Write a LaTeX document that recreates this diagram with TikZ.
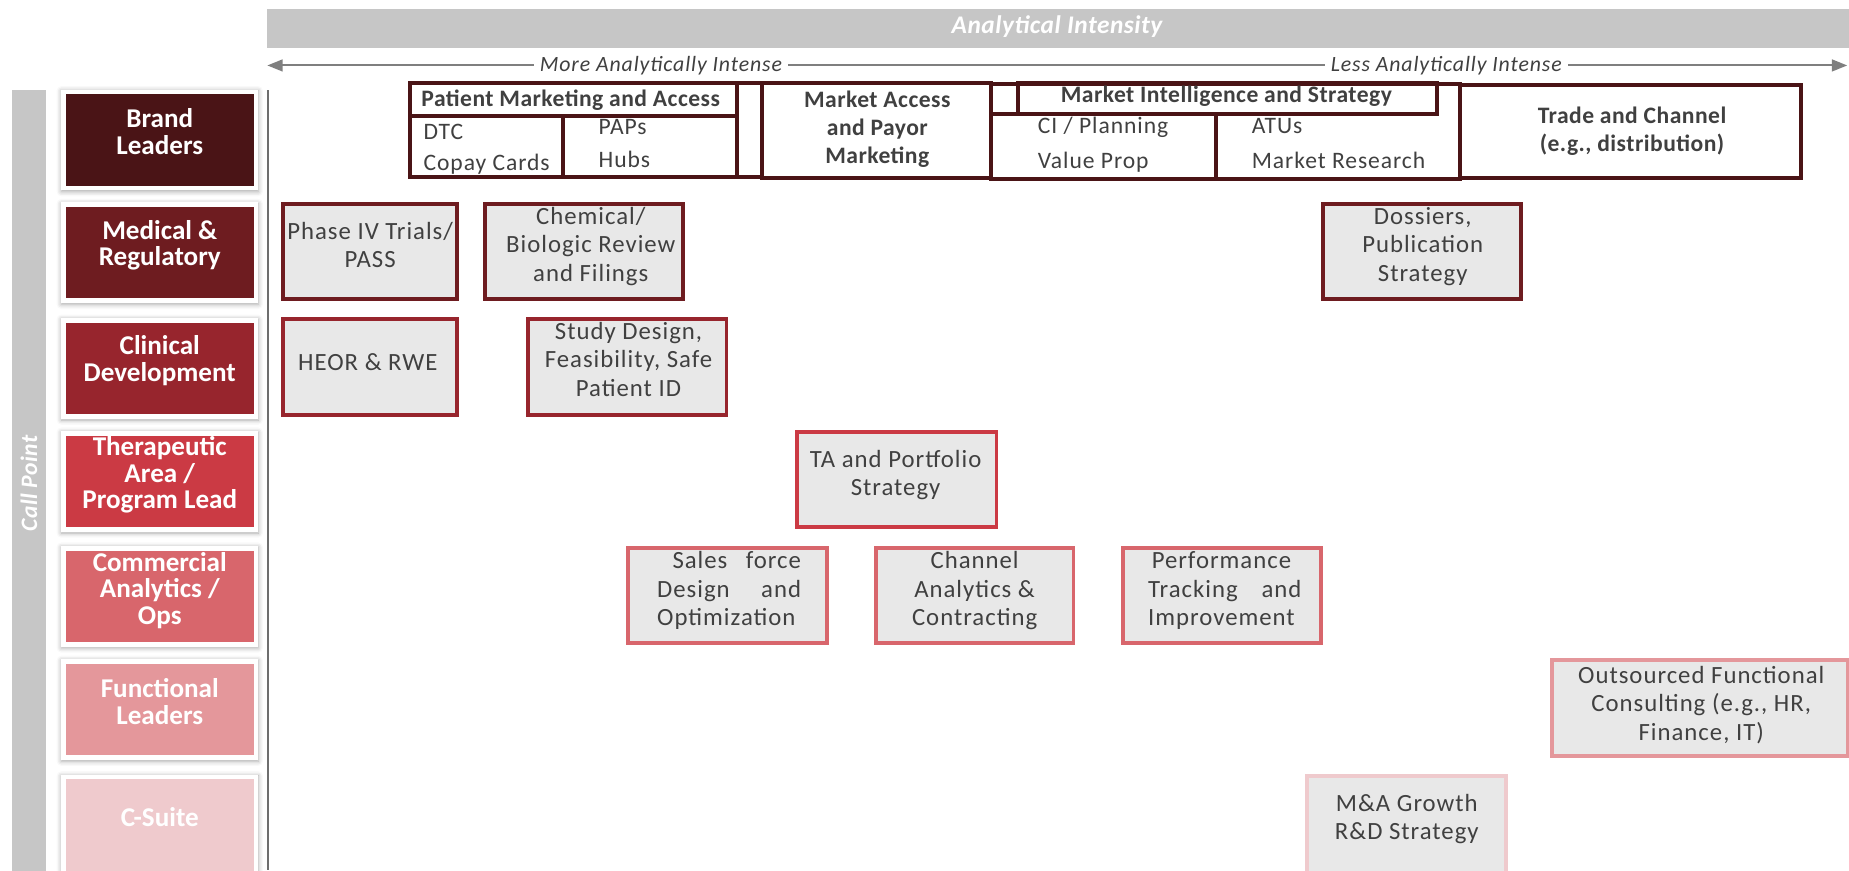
\documentclass[tikz,border=0pt]{standalone}
\usepackage{fontspec}
\setmainfont{Carlito}
\newfontfamily\bodyfont{Carlito}[LetterSpace=4]
\newfontfamily\headfont{Carlito}[LetterSpace=2]
\usetikzlibrary{arrows.meta,shadows.blur}

\definecolor{barGrey}{HTML}{C6C6C6}
\definecolor{ruleGrey}{HTML}{7F7F7F}
\definecolor{sepGrey}{HTML}{6E6E6E}
\definecolor{inkGrey}{HTML}{404040}
\definecolor{cellGrey}{HTML}{E8E8E8}
\definecolor{brandRed}{HTML}{4A1416}
\definecolor{medRed}{HTML}{6E1C20}
\definecolor{clinRed}{HTML}{97252D}
\definecolor{taRed}{HTML}{CB3A44}
\definecolor{opsRed}{HTML}{D8666C}
\definecolor{funcPink}{HTML}{E4979B}
\definecolor{suitePink}{HTML}{EFCACD}

% grey activity box: name, left, top, right, bottom, border colour, text y, text x, text
\newcommand\cellbox[9]{%
  \node[cell, draw=#6, minimum width={#4-#2-3.2}, minimum height={#5-#3-3.2}]
    (#1) at ({(#2+#4)/2},{(#3+#5)/2}) {};
  \node[celltext] (#1-text) at (#8,#7) {#9};}

% call-point label on the left: name, top, fill colour, text offset, text
\newcommand\rowlabel[5]{%
  \node[rowframe] (#1-frame) at (135.5,#2+38.75) {};
  \node[rowfill, fill=#3] (#1) at (135.5,#2+38.75) {};
  \node[rowtext] (#1-text) at (135.5,#2+#4) {#5};}

% outlined box of the brand row: name, left, top, right, bottom
\newcommand\brandframe[5]{%
  \node[brandbox, minimum width={#4-#2}, minimum height={#5-#3}]
    (#1) at ({(#2+#4)/2},{(#3+#5)/2}) {};}

\begin{document}
\begin{tikzpicture}[x=1pt,y=-1pt,
  topbar/.style={fill=barGrey, inner sep=0pt, outer sep=0pt},
  bartext/.style={text=white, font=\headfont\bfseries\itshape\fontsize{21.5}{24}\selectfont, inner sep=0pt},
  axis/.style={draw=ruleGrey, line width=1.7pt, {Triangle[length=13pt,width=10pt]}-{Triangle[length=13pt,width=10pt]}},
  axislabel/.style={fill=white, text=inkGrey, inner xsep=5pt, inner ysep=1pt,
    font=\bodyfont\itshape\fontsize{18.5}{22}\selectfont},
  sidebar/.style={fill=barGrey, inner sep=0pt, outer sep=0pt},
  sidetext/.style={text=white, inner sep=0pt, font=\headfont\bfseries\itshape\fontsize{20}{24}\selectfont},
  sep/.style={draw=sepGrey, line width=1.6pt},
  rowframe/.style={fill=white, minimum width=167pt, minimum height=85.5pt, inner sep=0pt,
    blur shadow={shadow xshift=0pt, shadow yshift=-1pt, shadow blur radius=4pt, shadow opacity=35}},
  rowfill/.style={minimum width=159pt, minimum height=77.5pt, inner sep=0pt},
  rowtext/.style={text=white, align=center, inner sep=0pt,
    font=\bfseries\fontsize{23}{22.5}\selectfont},
  cell/.style={fill=cellGrey, line width=3.2pt, inner sep=0pt, outer sep=0pt},
  celltext/.style={text=inkGrey, align=center, inner sep=0pt,
    font=\bodyfont\fontsize{21}{24}\selectfont},
  brandbox/.style={draw=brandRed, line width=3.4pt, inner sep=0pt, outer sep=0pt},
  brandtext/.style={text=inkGrey, inner sep=0pt, font=\bodyfont\fontsize{20}{24}\selectfont},
  brandhead/.style={text=inkGrey, inner sep=0pt, align=center,
    font=\headfont\bfseries\fontsize{20}{24}\selectfont}]

\useasboundingbox (0,0) rectangle (1568,738);

% ---- header: analytical intensity scale ----
\node[topbar, minimum width=1341.3pt, minimum height=32.8pt, anchor=north west] (bar) at (226.7,7.6) {};
\node[bartext, anchor=base] (barText) at (896.4,28.3) {Analytical Intensity};

\coordinate (arrowL) at (226.7,55.5);
\coordinate (arrowR) at (1566.5,55.5);
\draw[axis] (arrowL) -- (arrowR);
\node[axislabel, anchor=base] (moreLbl) at (560.5,60.8) {More Analytically Intense};
\node[axislabel, anchor=base] (lessLbl) at (1226.5,60.8) {Less Analytically Intense};

% ---- left side: call point ----
\node[sidebar, minimum width=29pt, minimum height=670pt, anchor=north west] (callBar) at (10,76) {};
\node[sidetext, rotate=90] (callText) at (24.5,410) {Call Point};

\coordinate (sepTop) at (227.4,76.5);
\coordinate (sepBot) at (227.4,738);
\draw[sep] (sepTop) -- (sepBot);

\rowlabel{brand}{80}{brandRed}{31.5}{Brand\\Leaders}
\rowlabel{medical}{175.6}{medRed}{32.5}{Medical \&\\Regulatory}
\rowlabel{clinical}{273.7}{clinRed}{32}{Clinical\\Development}
\rowlabel{therapeutic}{369.5}{taRed}{33.5}{Therapeutic\\Area /\\Program Lead}
\rowlabel{commercial}{467}{opsRed}{33.5}{Commercial\\Analytics /\\Ops}
\rowlabel{functional}{563}{funcPink}{32}{Functional\\Leaders}
\rowlabel{csuite}{661}{suitePink}{31.75}{C-Suite}

% ---- brand row ----
\brandframe{pmGroup}{347.8}{70.7}{646.3}{150}
\brandframe{pmHead}{347.8}{70.7}{625.3}{98}
\brandframe{pmLeft}{347.8}{98}{477.5}{150}
\brandframe{pmRight}{477.5}{98}{625.3}{150}
\brandframe{marketAccess}{646.3}{70.7}{840.3}{151}
\brandframe{miGroup}{840.3}{71}{1238.1}{152}
\brandframe{miLeft}{840.3}{96.5}{1031.5}{152}
\brandframe{miHead}{863.5}{70.6}{1219}{96.5}
\brandframe{trade}{1238.1}{72}{1527}{151}

\node[brandhead, anchor=base] (pmHeadText) at (484,90.5) {Patient Marketing and Access};
\node[brandtext, anchor=base west] (dtc) at (359,117.9) {DTC};
\node[brandtext, anchor=base west] (copay) at (359,144.2) {Copay Cards};
\node[brandtext, anchor=base west] (paps) at (507.5,113.9) {PAPs};
\node[brandtext, anchor=base west] (hubs) at (507.5,141.9) {Hubs};
\node[brandhead] (marketAccessText) at (744,109.5) {Market Access\\and Payor\\Marketing};
\node[brandhead, anchor=base] (miHeadText) at (1040,87) {Market Intelligence and Strategy};
\node[brandtext, anchor=base west] (ciPlan) at (880,113) {CI / Planning};
\node[brandtext, anchor=base west] (valueProp) at (880,142.8) {Value Prop};
\node[brandtext, anchor=base west] (atus) at (1061.4,113) {ATUs};
\node[brandtext, anchor=base west] (research) at (1061.4,142.8) {Market Research};
\node[brandhead] (tradeText) at (1384,111.5) {Trade and Channel\\(e.g., distribution)};

% ---- activity boxes ----
\cellbox{phase}{238.5}{171.6}{389.3}{255.4}{medRed}{208}{313.9}{Phase IV Trials/\\PASS}
\cellbox{chemical}{410}{171.6}{581}{255.4}{medRed}{208.9}{501}{Chemical/\\Biologic Review\\and Filings}
\cellbox{dossiers}{1120}{171.6}{1291.7}{255.4}{medRed}{209}{1206.5}{Dossiers,\\Publication\\Strategy}
\cellbox{heor}{238.5}{269}{389.3}{353.4}{clinRed}{307.5}{312}{HEOR \& RWE}
\cellbox{study}{446.4}{269}{617.6}{353.4}{clinRed}{304.7}{533}{Study Design,\\Feasibility, Safe\\Patient ID}
\cellbox{portfolio}{674}{364.7}{846.6}{448.5}{taRed}{402.9}{759.5}{TA and Portfolio\\Strategy}
\cellbox{salesforce}{531}{462.8}{702.8}{547}{opsRed}{500.9}{618.3}%
  {\parbox{122pt}{\hfill\makebox[109pt][s]{Sales force}\\\makebox[122pt][s]{Design and}\\Optimization}}
\cellbox{channel}{741}{462.8}{912}{547}{opsRed}{500.9}{826.5}{Channel\\Analytics \&\\Contracting}
\cellbox{performance}{951}{462.8}{1121.7}{547}{opsRed}{500.9}{1038.7}%
  {\parbox{130pt}{\hspace*{3pt}Performance\\\makebox[130pt][s]{Tracking and}\\Improvement}}
\cellbox{outsourced}{1314.8}{558}{1568.5}{643}{funcPink}{597.7}{1442.7}{Outsourced Functional\\Consulting (e.g., HR,\\Finance, IT)}
\cellbox{growth}{1106.8}{656.5}{1279}{745}{suitePink}{694.5}{1193}{M\&A Growth\\R\&D Strategy}

\end{tikzpicture}
\end{document}
